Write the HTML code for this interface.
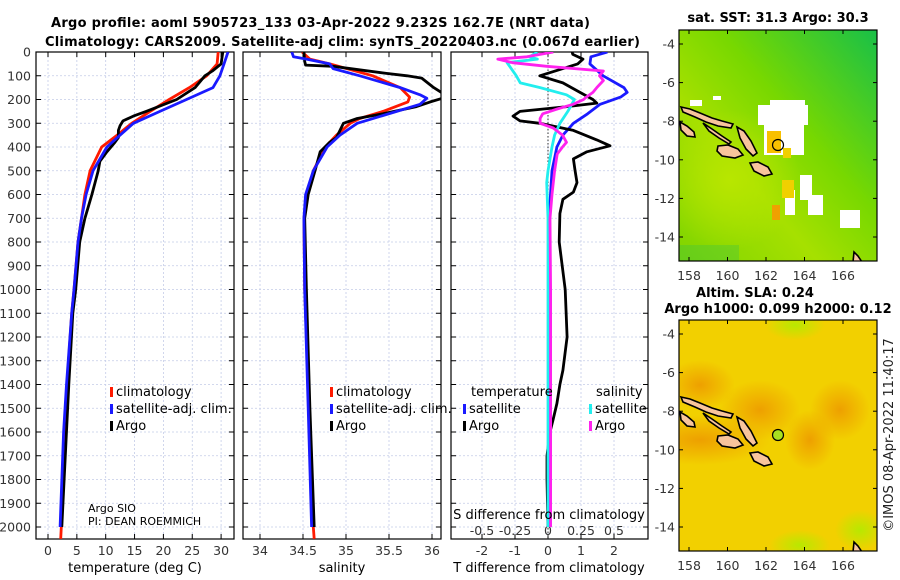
<!DOCTYPE html>
<html><head><meta charset="utf-8">
<style>
html,body{margin:0;padding:0;background:#fff;}
svg{display:block;font-family:"DejaVu Sans","Liberation Sans",sans-serif;}
.tk{font-size:12.5px;fill:#333;}
.ttl{font-size:13px;font-weight:bold;fill:#000;}
.lg{font-size:13px;fill:#000;}
</style></head>
<body>
<svg id="fig" width="900" height="580" viewBox="0 0 900 580">
<defs>
<clipPath id="c1"><rect x="36" y="52" width="198" height="487"/></clipPath>
<clipPath id="c2"><rect x="243" y="52" width="198" height="487"/></clipPath>
<clipPath id="c3"><rect x="451" y="52" width="197" height="487"/></clipPath>
<clipPath id="cm1"><rect x="679" y="30" width="198" height="231"/></clipPath>
<clipPath id="cm2"><rect x="679" y="320" width="198" height="231"/></clipPath>
<linearGradient id="gsst" x1="0" y1="1" x2="1" y2="0">
<stop offset="0" stop-color="#7fd400"/><stop offset="0.35" stop-color="#a6e000"/><stop offset="0.6" stop-color="#78d800"/><stop offset="1" stop-color="#18c048"/></linearGradient>
<radialGradient id="rsla1" cx="0.5" cy="0.5" r="0.5"><stop offset="0" stop-color="#eea000"/><stop offset="1" stop-color="#eea000" stop-opacity="0"/></radialGradient>
<radialGradient id="rsla2" cx="0.5" cy="0.5" r="0.5"><stop offset="0" stop-color="#b8e800"/><stop offset="1" stop-color="#b8e800" stop-opacity="0"/></radialGradient>
<radialGradient id="rsst" cx="0.5" cy="0.5" r="0.5"><stop offset="0" stop-color="#b8e600"/><stop offset="1" stop-color="#b8e600" stop-opacity="0"/></radialGradient>
</defs>
<text class="ttl" x="51" y="27" textLength="539">Argo profile: aoml 5905723_133 03-Apr-2022 9.232S 162.7E (NRT data)</text>
<text class="ttl" x="45" y="46" textLength="595">Climatology: CARS2009. Satellite-adj clim: synTS_20220403.nc (0.067d earlier)</text>
<g id="axes"></g>
<g id="maps"></g>
<text x="893" y="435" text-anchor="middle" transform="rotate(-90 893 435)" style="font-size:13px;fill:#222">©IMOS 08-Apr-2022 11:40:17</text>
</svg>
<script>
// ---- data ----
const depthTicks=[0,100,200,300,400,500,600,700,800,900,1000,1100,1200,1300,1400,1500,1600,1700,1800,1900,2000];
const tTicks=[0,5,10,15,20,25,30];
const sTicks=[34,34.5,35,35.5,36];
const sTickLabels=["34","34.5","35","35.5","36"];
const dTTicks=[-2,-1,0,1,2];
const dSTicks=[-0.5,-0.25,0,0.25,0.5];
const dSTickLabels=["-0.5","-0.25","0","0.25","0.5"];

const climTDepth=[0,50,100,150,200,250,300,350,400,500,600,700,800,1000,1100,1400,1600,2000,2050];
const climT=[29.5,29.3,27.5,24.5,21,17.7,14.5,12,9.3,7.3,6.4,5.8,5.2,4.5,4.1,3.3,2.8,2.3,2.2];
const satTDepth=[0,50,100,150,200,250,300,350,400,500,600,700,800,1000,1100,1400,1600,2000];
const satT=[31.2,30.5,29.8,28.6,24,19.4,14.8,12.5,10.2,7.8,6.6,5.8,5.2,4.5,4.1,3.2,2.7,2.1];
const argoTDepth=[0,50,80,100,150,200,250,270,290,310,330,360,380,420,460,500,600,700,800,1000,1100,1400,2000];
const argoT=[30.3,30,28.5,27.2,25.5,22.3,17,14.8,13,12.5,12.2,12.2,11.6,10.2,9,8.7,7.6,6.4,5.5,4.8,4.3,3.6,2.4];

const climSDepth=[0,30,50,100,150,190,210,250,280,300,350,400,500,600,700,1000,1500,2000,2050];
const climS=[34.49,34.58,34.81,35.31,35.63,35.74,35.72,35.43,35.16,35.05,34.89,34.76,34.62,34.55,34.51,34.52,34.57,34.62,34.63];
const satSDepth=[0,20,30,50,70,100,150,180,195,220,250,300,350,400,500,600,700,1000,1500,2000];
const satS=[34.37,34.39,34.54,34.81,34.85,35.16,35.63,35.86,35.94,35.86,35.59,35.13,34.93,34.78,34.62,34.53,34.51,34.52,34.56,34.6];
const argoSDepth=[0,40,55,60,90,100,110,150,175,195,210,230,260,280,300,330,360,380,420,500,600,700,1000,1500,2000];
const argoS=[34.51,34.52,34.53,34.85,35.47,35.71,35.88,36.02,36.13,36.12,35.98,35.82,35.43,35.13,34.97,34.93,34.89,34.81,34.7,34.64,34.56,34.52,34.54,34.58,34.63];

const satDTDepth=[0,20,50,100,150,170,190,220,260,300,350,400,500,700,2000];
const satDT=[1.8,1.3,1.27,1.67,2.3,2.4,2.2,1.58,1.2,0.77,0.45,0.27,0.12,0.03,0.03];
const argoDTDepth=[0,10,30,50,100,130,170,200,215,230,250,270,290,300,330,370,395,420,450,500,550,590,620,680,800,1000,1200,1340,1400,1480,1550,1600,1700,1800,2000];
const argoDT=[0.73,0.75,1.06,0.9,-0.25,0.45,0.97,1.36,1.48,0.58,-0.85,-1.06,-0.85,-0.25,0.77,1.48,1.88,1.18,0.77,0.82,0.88,0.77,0.45,0.36,0.34,0.52,0.58,0.45,0.36,0.27,0.15,0.06,-0.03,-0.03,0];
const satDSDepth=[0,20,30,45,100,130,150,180,200,250,300,350,400,500,550,700,2000];
const satDS=[-0.08,-0.14,-0.08,-0.31,-0.24,-0.21,-0.06,0.14,0.2,0.15,0.09,0.05,0.03,0,-0.01,0,0];
const argoDSDepth=[0,20,30,45,60,80,100,120,150,170,190,200,220,240,260,280,300,320,350,380,400,430,500,600,700,1000,2000];
const argoDS=[0.04,-0.16,-0.38,-0.27,-0.01,0.42,0.39,0.42,0.37,0.34,0.29,0.27,0.19,0.07,-0.04,-0.06,-0.06,0.04,0.11,0.14,0.11,0.07,0.05,0.03,0.015,0.02,0.02];

// ---- scales ----
const NS="http://www.w3.org/2000/svg";
const Y0=52, PY=0.2375;
const yD=d=>Y0+d*PY;
const xT=t=>48+t*5.77;
const xS=s=>260+(s-34)*86;
const xDT=t=>548+t*33;
const xDS=s=>548+s*132;
const ax=document.getElementById('axes');
function mk(tag,attrs,parent){const e=document.createElementNS(NS,tag);for(const k in attrs)e.setAttribute(k,attrs[k]);(parent||ax).appendChild(e);return e;}

const panels=[{x:36,w:198,clip:'c1',name:'temperature-panel'},{x:243,w:198,clip:'c2',name:'salinity-panel'},{x:451,w:197,clip:'c3',name:'difference-panel'}];
const PB=539;
panels.forEach((p,i)=>{
  const g=mk('g',{});
  
  
  depthTicks.forEach(d=>{
    const y=yD(d);
    const gl=mk('line',{x1:p.x,x2:p.x+p.w,y1:y,y2:y,stroke:'#c4cce8','stroke-width':0.8,'stroke-dasharray':'2,2'},g);
    
    
    mk('line',{x1:p.x,x2:p.x+5,y1:y,y2:y,stroke:'#000','stroke-width':1},g);
    mk('line',{x1:p.x+p.w-5,x2:p.x+p.w,y1:y,y2:y,stroke:'#000','stroke-width':1},g);
  });
  let xt, xf, labs;
  if(i===0){xt=tTicks;xf=xT;labs=tTicks.map(String);}
  else if(i===1){xt=sTicks;xf=xS;labs=sTickLabels;}
  else {xt=dTTicks;xf=xDT;labs=dTTicks.map(String);}
  xt.forEach((v,j)=>{
    const x=xf(v);
    const gl=mk('line',{x1:x,x2:x,y1:Y0,y2:PB,stroke:'#c4cce8','stroke-width':0.8,'stroke-dasharray':'2,2'},g);
    
    
    mk('line',{x1:x,x2:x,y1:Y0,y2:Y0+5,stroke:'#000','stroke-width':1},g);
    mk('line',{x1:x,x2:x,y1:PB-5,y2:PB,stroke:'#000','stroke-width':1},g);
    const t=mk('text',{x:x,y:555,'text-anchor':'middle',class:'tk'},g);
    t.textContent=labs[j];
    
    
  });
  const fr=mk('rect',{x:p.x,y:Y0,width:p.w,height:PB-Y0,fill:'none',stroke:'#000','stroke-width':1.2},g);
  
  
});
depthTicks.forEach(d=>{
  const t=mk('text',{x:31,y:yD(d)+4.5,'text-anchor':'end',class:'tk'});
  t.textContent=String(d);
  
  
});
const zl=mk('line',{x1:xDT(0),x2:xDT(0),y1:Y0,y2:PB,stroke:'#333','stroke-width':1,'stroke-dasharray':'1.5,2'});


dSTicks.forEach((v,j)=>{
  const t=mk('text',{x:xDS(v),y:535,'text-anchor':'middle',class:'tk'});
  t.textContent=dSTickLabels[j];
  
  
});
function line(depths,vals,xf,color,clip,name){
  const pts=depths.map((d,k)=>xf(vals[k]).toFixed(1)+','+yD(d).toFixed(1)).join(' ');
  const pl=mk('polyline',{points:pts,fill:'none',stroke:color,'stroke-width':2.8,'stroke-linejoin':'round','clip-path':'url(#'+clip+')'});
  
  
}
line(climTDepth,climT,xT,'#ff1a00','c1','temp-climatology-line');
line(argoTDepth,argoT,xT,'#000','c1','temp-argo-line');
line(satTDepth,satT,xT,'#1a1aff','c1','temp-satellite-line');
line(climSDepth,climS,xS,'#ff1a00','c2','sal-climatology-line');
line(argoSDepth,argoS,xS,'#000','c2','sal-argo-line');
line(satSDepth,satS,xS,'#1a1aff','c2','sal-satellite-line');
line(satDTDepth,satDT,xDT,'#1a1aff','c3','tdiff-satellite-line');
line(argoDTDepth,argoDT,xDT,'#000','c3','tdiff-argo-line');
line(satDSDepth,satDS,xDS,'#22eeee','c3','sdiff-satellite-line');
line(argoDSDepth,argoDS,xDS,'#ff22ee','c3','sdiff-argo-line');

function lgItem(x,y,color,label,name){
  const g=mk('g',{});
  
  
  mk('rect',{x:x,y:y-9,width:3,height:10,fill:color},g);
  const t=mk('text',{x:x+6,y:y,class:'lg'},g);t.textContent=label;
}
lgItem(110,396,'#ff1a00','climatology','legend-climatology');
lgItem(110,413,'#1a1aff','satellite-adj. clim.','legend-satellite');
lgItem(110,430,'#000','Argo','legend-argo');
lgItem(330,396,'#ff1a00','climatology','legend-climatology-2');
lgItem(330,413,'#1a1aff','satellite-adj. clim.','legend-satellite-2');
lgItem(330,430,'#000','Argo','legend-argo-2');
lgItem(463,413,'#1a1aff','satellite','legend-tdiff-satellite');
lgItem(463,430,'#000','Argo','legend-tdiff-argo');
lgItem(589,413,'#22eeee','satellite','legend-sdiff-satellite');
lgItem(589,430,'#ff22ee','Argo','legend-sdiff-argo');
function txt(x,y,s,cls,name,anchor,size){
  const t=mk('text',{x:x,y:y,class:cls,'text-anchor':anchor||'start'});
  if(size)t.style.fontSize=size+'px';
  t.textContent=s;
  
  
  return t;
}
txt(471,396,'temperature','lg','legend-temperature-header');
txt(596,396,'salinity','lg','legend-salinity-header');
txt(88,512,'Argo SIO','lg','argo-sio-label','start',11);
txt(88,525,'PI: DEAN ROEMMICH','lg','pi-label','start',11);
txt(135,572,'temperature (deg C)','lg','x-axis-title-temperature','middle');
txt(342,572,'salinity','lg','x-axis-title-salinity','middle');
txt(549,572,'T difference from climatology','lg','x-axis-title-tdiff','middle');
txt(549,519,'S difference from climatology','lg','s-diff-axis-title','middle');

// ---- maps ----
const mp=document.getElementById('maps');
const lonTicks=[158,160,162,164,166];
const latTicks=[-4,-6,-8,-10,-12,-14];
const mlon=l=>689+(l-158)*19.25;
const mlat=(l,off)=>44+off+(-4-l)*19.3;
function mm(tag,attrs,parent){return mk(tag,attrs,parent||mp);}
function islands(g,off){
  const polys=[
    [[681,107],[690,109],[700,113],[712,118],[722,121],[733,124],[731,128],[718,126],[706,122],[695,117],[683,112]],
    [[703,123],[712,129],[722,136],[731,142],[729,144],[719,138],[709,131]],
    [[737,127],[744,131],[751,141],[757,153],[753,156],[746,149],[740,138]],
    [[718,146],[728,145],[738,149],[743,155],[735,158],[722,156],[717,151]],
    [[750,163],[758,162],[768,167],[772,174],[764,176],[754,171]],
    [[680,122],[687,126],[694,132],[695,137],[687,136],[681,130]],
    [[853,262],[854,252],[858,256],[862,262]]
  ];
  polys.forEach(p=>{
    const pg=mm('polygon',{points:p.map(q=>q[0]+','+(q[1]+off)).join(' '),fill:'#f8c49c',stroke:'#000','stroke-width':1.6},g);
    
    
  });
}
function mapFrame(top,clip,name,isSST){
  const g=mm('g',{'clip-path':'url(#'+clip+')'});
  
  
  const off=top-30;
  if(isSST){
    mm('rect',{x:679,y:top,width:198,height:231,fill:'url(#gsst)'},g);
    mm('ellipse',{cx:730,cy:top+150,rx:70,ry:70,fill:'url(#rsst)'},g);
    mm('rect',{x:679,y:top+215,width:60,height:16,fill:'#30c050',opacity:0.3},g);
    [[758,105,50,20],[764,115,40,40],[770,100,35,10],[800,175,12,25],[785,190,10,25],[808,195,15,20],[840,210,20,18],[690,100,12,6],[713,96,8,4]].forEach(r=>{
      const w=mm('rect',{x:r[0],y:r[1]+off,width:r[2],height:r[3],fill:'#fff'},g);
      
      
    });
    [[767,131,14,22,'#f8c000'],[783,148,8,10,'#f0d000'],[782,180,12,18,'#f0d000'],[772,205,8,15,'#f0a000']].forEach(r=>{
      mm('rect',{x:r[0],y:r[1]+off,width:r[2],height:r[3],fill:r[4]},g);
    });
  } else {
    mm('rect',{x:679,y:top,width:198,height:231,fill:'#f2d000'},g);
    [[700,150,70,25],[760,120,40,30],[810,150,25,30],[840,120,30,30],[700,95,35,25]].forEach(e=>mm('ellipse',{cx:e[0],cy:e[1]+off,rx:e[2],ry:e[3],fill:'url(#rsla1)'},g));
    [[795,35,30,15],[800,255,30,15],[860,240,25,20]].forEach(e=>mm('ellipse',{cx:e[0],cy:e[1]+off,rx:e[2],ry:e[3],fill:'url(#rsla2)'},g));
  }
  islands(g,off);
  const c=mm('circle',{cx:778,cy:145+off,r:5.5,fill:isSST?'none':'#a8e020',stroke:'#000','stroke-width':1.2},g);
  
  
  const fr=mm('rect',{x:679,y:top,width:198,height:231,fill:'none',stroke:'#000','stroke-width':1.2});
  
  
  lonTicks.forEach(l=>{
    const x=mlon(l);
    mm('line',{x1:x,x2:x,y1:top+231,y2:top+227,stroke:'#000'});
    mm('line',{x1:x,x2:x,y1:top,y2:top+4,stroke:'#000'});
    const t=mm('text',{x:x,y:top+250,'text-anchor':'middle',class:'tk'});
    t.textContent=String(l);
    
    
  });
  latTicks.forEach(l=>{
    const y=mlat(l,off);
    mm('line',{x1:679,x2:683,y1:y,y2:y,stroke:'#000'});
    mm('line',{x1:873,x2:877,y1:y,y2:y,stroke:'#000'});
    const t=mm('text',{x:675,y:y+4.5,'text-anchor':'end',class:'tk'});
    t.textContent=String(l);
    
    
  });
}
mapFrame(30,'cm1','sst-map',true);
mapFrame(320,'cm2','sla-map',false);
function mt(x,y,s,name){const t=mm('text',{x:x,y:y,'text-anchor':'middle',class:'ttl'});t.textContent=s;}
mt(778,22,'sat. SST: 31.3 Argo: 30.3','sst-map-title');
mt(755,297,'Altim. SLA: 0.24','sla-map-title');
mt(778,313,'Argo h1000: 0.099 h2000: 0.12','sla-map-subtitle');
</script>
</body></html>
